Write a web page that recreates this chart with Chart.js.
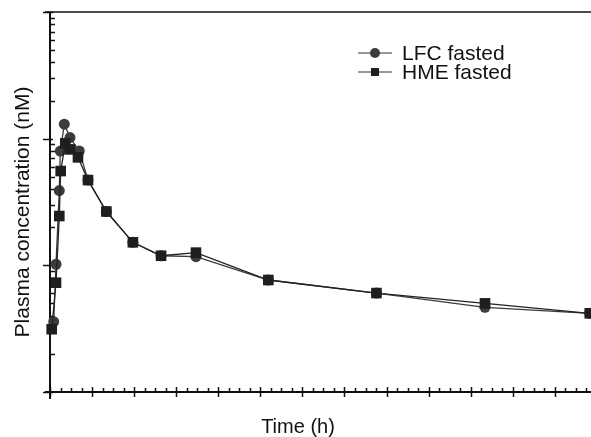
<!DOCTYPE html>
<html>
<head>
<meta charset="utf-8">
<script src="https://cdn.jsdelivr.net/npm/chart.js@4/dist/chart.umd.min.js"></script>
<style>
html,body{margin:0;padding:0;background:#fff;overflow:hidden;}
#wrap{position:relative;width:591px;height:437px;}
</style>
</head>
<body>
<div id="wrap"><canvas id="c" width="591" height="437"></canvas></div>
<script>
// Time points (h) and plasma concentrations (nM)
const timeLFC = [0.88, 1.43, 2.21, 2.45, 3.40, 4.75, 6.96, 9.03, 13.4, 19.7, 26.4, 34.7, 51.9, 77.6, 103.4, 128.3];
const concLFC = [0.359, 1.02, 3.89, 7.98, 13.0, 10.2, 8.0, 4.71, 2.66, 1.52, 1.19, 1.17, 0.766, 0.604, 0.466, 0.418];
const timeHME = [0.40, 1.43, 2.21, 2.54, 3.64, 4.75, 6.65, 9.03, 13.4, 19.7, 26.4, 34.7, 51.9, 77.6, 103.4, 128.3];
const concHME = [0.313, 0.729, 2.45, 5.55, 9.18, 8.23, 7.12, 4.71, 2.66, 1.52, 1.19, 1.26, 0.766, 0.604, 0.501, 0.418];
const seriesNames = ['LFC fasted', 'HME fasted'];
const xTitle = 'Time (h)';
const yTitle = 'Plasma concentration (nM)';
const xMajorStep = 10;
const xMinorStep = 2.5;
const yDecades = [0.1, 1, 10, 100];

const FONT = '"Liberation Sans", Arial, Helvetica, sans-serif';
const INK = '#111';

function pts(t, v) { return t.map((x, i) => ({x: x, y: v[i]})); }

const deco = {
  id: 'deco',
  beforeDatasetsDraw(chart) {
    const ctx = chart.ctx, a = chart.chartArea;
    const xs = chart.scales.x, ys = chart.scales.y;
    ctx.save();
    ctx.strokeStyle = INK;
    ctx.lineCap = 'butt';
    // top frame line
    ctx.lineWidth = 1.5;
    ctx.beginPath(); ctx.moveTo(a.left - 5, a.top); ctx.lineTo(a.right, a.top); ctx.stroke();
    // axes
    ctx.lineWidth = 2;
    ctx.beginPath(); ctx.moveTo(a.left, a.top); ctx.lineTo(a.left, a.bottom + 7); ctx.stroke();
    ctx.beginPath(); ctx.moveTo(a.left - 5, a.bottom); ctx.lineTo(a.right, a.bottom); ctx.stroke();
    // x ticks
    ctx.lineWidth = 1.5;
    for (let v = 0; v <= xs.max + 1e-6; v += xMinorStep) {
      const px = Math.round(xs.getPixelForValue(v)) + 0.5;
      const major = Math.abs(v / xMajorStep - Math.round(v / xMajorStep)) < 1e-6;
      ctx.beginPath();
      if (major) { ctx.moveTo(px, a.bottom - 5); ctx.lineTo(px, a.bottom + 5); }
      else { ctx.moveTo(px, a.bottom - 4); ctx.lineTo(px, a.bottom); }
      ctx.stroke();
    }
    // y ticks (log)
    for (let d = 0; d < yDecades.length; d++) {
      const base = yDecades[d];
      const py = Math.round(ys.getPixelForValue(base)) + 0.5;
      ctx.beginPath(); ctx.moveTo(a.left - 7, py); ctx.lineTo(a.left + 3, py); ctx.stroke();
      if (d < yDecades.length - 1) {
        for (let k = 2; k <= 9; k++) {
          const q = Math.round(ys.getPixelForValue(base * k)) + 0.5;
          ctx.beginPath(); ctx.moveTo(a.left, q); ctx.lineTo(a.left + 5, q); ctx.stroke();
        }
      }
    }
    ctx.restore();
  },
  afterDraw(chart) {
    const ctx = chart.ctx;
    ctx.save();
    ctx.fillStyle = INK;
    // axis titles
    ctx.font = '20px ' + FONT;
    ctx.textAlign = 'center';
    ctx.textBaseline = 'middle';
    ctx.fillText(xTitle, 298, 427);
    ctx.save();
    ctx.translate(23, 212);
    ctx.rotate(-Math.PI / 2);
    ctx.font = '21px ' + FONT;
    ctx.fillText(yTitle, 0, 0);
    ctx.restore();
    // legend
    const ds = chart.data.datasets;
    const rows = [53, 72];
    ctx.font = '21px ' + FONT;
    ctx.textAlign = 'left';
    rows.forEach((y, i) => {
      const d = ds[i];
      ctx.strokeStyle = '#333';
      ctx.lineWidth = 1.2;
      ctx.beginPath(); ctx.moveTo(358, y); ctx.lineTo(392, y); ctx.stroke();
      ctx.fillStyle = d.pointBackgroundColor;
      if (d.pointStyle === 'rect') {
        ctx.fillRect(371, y - 4, 8, 8);
      } else {
        ctx.beginPath(); ctx.arc(375, y, 5, 0, Math.PI * 2); ctx.fill();
      }
      ctx.fillStyle = INK;
      ctx.fillText(d.label, 402, y + 1);
    });
    ctx.restore();
  }
};

new Chart(document.getElementById('c'), {
  type: 'line',
  data: {
    datasets: [
      {
        label: seriesNames[0],
        data: pts(timeLFC, concLFC),
        borderColor: '#3a3a3a',
        borderWidth: 1.3,
        pointStyle: 'circle',
        pointRadius: 5.5,
        pointBackgroundColor: '#3c3c3c',
        pointBorderColor: '#3c3c3c',
        pointBorderWidth: 0,
        tension: 0,
        clip: false,
        order: 1
      },
      {
        label: seriesNames[1],
        data: pts(timeHME, concHME),
        borderColor: '#222',
        borderWidth: 1.3,
        pointStyle: 'rect',
        pointRadius: 7.5,
        pointBackgroundColor: '#1e1e1e',
        pointBorderColor: '#1e1e1e',
        pointBorderWidth: 0,
        tension: 0,
        clip: false,
        order: 0
      }
    ]
  },
  options: {
    responsive: false,
    animation: false,
    events: [],
    layout: { autoPadding: false, padding: { left: 50, top: 12, right: 0, bottom: 45 } },
    plugins: { legend: { display: false }, tooltip: { enabled: false }, title: { display: false } },
    scales: {
      x: { type: 'linear', min: 0, max: 128.6, display: false },
      y: { type: 'logarithmic', min: 0.1, max: 100, display: false }
    }
  },
  plugins: [deco]
});
</script>
</body>
</html>
